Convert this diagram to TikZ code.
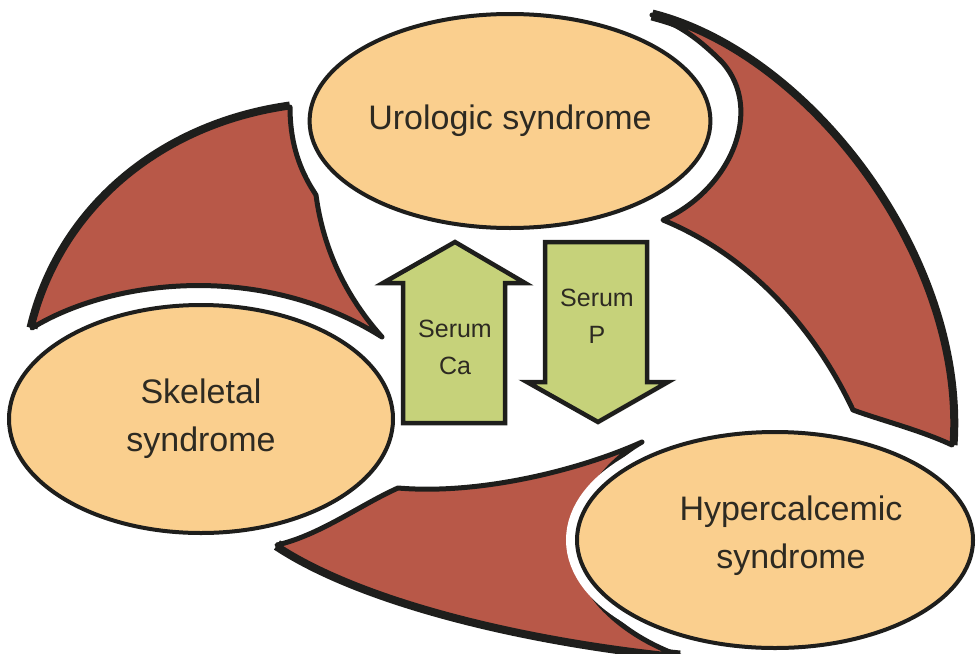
\documentclass[tikz,border=0pt]{standalone}
\usepackage{fontspec}
\setmainfont{Liberation Sans}
\usetikzlibrary{shapes.geometric}
\definecolor{ellfill}{RGB}{250,207,142}
\definecolor{cresfill}{RGB}{184,88,72}
\definecolor{grnfill}{RGB}{198,210,122}
\definecolor{ink}{RGB}{30,30,28}
\definecolor{txt}{RGB}{45,42,34}
\tikzset{
  syn/.style={ellipse, fill=ellfill, draw=ink, line width=4pt, inner sep=0pt,
    preaction={draw=white, line width=22pt},
    font=\fontsize{34}{48}\selectfont, text=txt, align=center},
  syntext/.style={font=\fontsize{34}{48}\selectfont, text=txt, align=center, inner sep=0pt},
  cresc/.style={fill=cresfill, draw=ink, line width=5pt, line join=round},
  rim/.style={draw=ink, line width=11pt, line cap=butt},
  bigarrow/.style={fill=grnfill, draw=ink, line width=4.5pt, line join=miter},
  arrlabel/.style={font=\fontsize{25}{37}\selectfont, text=txt, align=center, inner sep=0pt}
}
\begin{document}
\begin{tikzpicture}[x=1pt,y=-1pt]
\useasboundingbox (0,0) rectangle (976,653);

% top-right crescent
\draw[rim] (652,15) .. controls (810,55) and (965,260) .. (952,445);
\draw[cresc] (652,15) .. controls (810,55) and (965,260) .. (952,445)
  .. controls (920,430) and (880,420) .. (853,410)
  .. controls (820,340) and (760,260) .. (663,220)
  .. controls (730,190) and (765,110) .. (722,62)
  .. controls (700,40) and (680,25) .. cycle;

% top-left crescent
\draw[rim] (290,107) .. controls (160,125) and (60,210) .. (32,328);
\draw[cresc] (290,107) .. controls (160,125) and (60,210) .. (32,328)
  .. controls (110,280) and (260,260) .. (382,337)
  .. controls (340,290) and (322,240) .. (316,195)
  -- (311,187)
  .. controls (298,165) and (290,140) .. cycle;

% bottom crescent
\draw[rim] (277,545) .. controls (360,600) and (520,640) .. (680,656);
\draw[cresc] (277,545) .. controls (320,535) and (360,505) .. (398,488)
  .. controls (480,495) and (580,470) .. (642,442)
  .. controls (575,480) and (555,560) .. (605,610)
  .. controls (625,630) and (650,645) .. (680,656)
  .. controls (520,640) and (360,600) .. cycle;

% ellipses
\node[syn, minimum width=368pt, minimum height=214pt] (uro) at (510,121) {Urologic syndrome};
\node[syn, minimum width=384pt, minimum height=228pt] (skel) at (201,419) {Skeletal\\syndrome};
\node[syn, minimum width=396pt, minimum height=216pt] (hyper) at (775,540) {};
\node[syntext] (hypertext) at (791,536) {Hypercalcemic\\syndrome};

% green arrows
\draw[bigarrow] (455,242) -- (525,283) -- (505,283) -- (505,423) -- (403,423) -- (403,283) -- (383,283) -- cycle;
\draw[bigarrow] (545,242) -- (647,242) -- (647,382) -- (668,382) -- (598,422) -- (527,382) -- (545,382) -- cycle;
\node[arrlabel] (ca) at (455,347) {Serum\\Ca};
\node[arrlabel] (p) at (597,316) {Serum\\P};
\end{tikzpicture}
\end{document}
